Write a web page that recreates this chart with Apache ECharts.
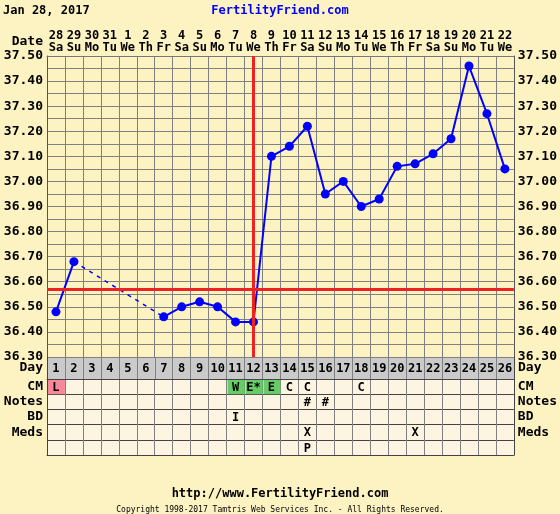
<!DOCTYPE html>
<html>
<head>
<meta charset="utf-8">
<script src="https://cdn.jsdelivr.net/npm/echarts@6/dist/echarts.min.js"></script>
<style>
  html, body { margin: 0; padding: 0; background: #fdf2c2; }
  #chart { width: 560px; height: 514px; }
</style>
</head>
<body>
<div id="chart"></div>
<script>
// cycle days and calendar labels
const cycleDays = ['1','2','3','4','5','6','7','8','9','10','11','12','13','14','15','16','17','18','19','20','21','22','23','24','25','26']
const dateNums = ['28','29','30','31','1','2','3','4','5','6','7','8','9','10','11','12','13','14','15','16','17','18','19','20','21','22']
const weekDays = ['Sa','Su','Mo','Tu','We','Th','Fr','Sa','Su','Mo','Tu','We','Th','Fr','Sa','Su','Mo','Tu','We','Th','Fr','Sa','Su','Mo','Tu','We']

// temperatures (null = not recorded)
const temps = [36.48, 36.68, null, null, null, null, 36.46, 36.50, 36.52, 36.50, 36.44, 36.44,
  37.10, 37.14, 37.22, 36.95, 37.00, 36.90, 36.93, 37.06, 37.07, 37.11, 37.17, 37.46, 37.27, 37.05]
// dashed link across the gap
const gapLink = [null, 36.68, null, null, null, null, 36.46, null, null, null, null, null,
  null, null, null, null, null, null, null, null, null, null, null, null, null, null]

const coverline = 36.57
const ovulationDay = '12'

const tableRows = ['CM', 'Notes', 'BD', 'Meds', '']
// [day index, row index, text, fill]
const tableCells = [
  [0, 0, 'L', '#f7889a'],
  [10, 0, 'W', '#66cc66'],
  [11, 0, 'E*', '#66cc66'],
  [12, 0, 'E', '#66cc66'],
  [13, 0, 'C', null],
  [14, 0, 'C', null],
  [17, 0, 'C', null],
  [14, 1, '#', null],
  [15, 1, '#', null],
  [10, 2, 'I', null],
  [14, 3, 'X', null],
  [20, 3, 'X', null],
  [14, 4, 'P', null]
]

const font = 'DejaVu Sans Mono'
const myChart = echarts.init(document.getElementById('chart'))

const cellSeries = (xi, yi, data) => ({
  type: 'custom',
  xAxisIndex: xi,
  yAxisIndex: yi,
  z: 5,
  data: data,
  renderItem: (params, api) => {
    const c = api.coord([api.value(0), api.value(1)])
    const s = api.size([1, 1])
    const children = []
    const fill = data[params.dataIndex][3]
    if (fill) {
      children.push({
        type: 'rect',
        shape: { x: c[0] - s[0] / 2 + 1, y: c[1] - s[1] / 2 + 1, width: s[0] - 1, height: s[1] - 1 },
        style: { fill: fill }
      })
    }
    children.push({
      type: 'text',
      style: {
        text: data[params.dataIndex][2],
        x: c[0], y: c[1] + 1,
        align: 'center', verticalAlign: 'middle',
        font: 'bold 12px ' + font, fill: '#000'
      }
    })
    return { type: 'group', children: children }
  }
})

const rowLabel = { interval: 0, margin: 4, fontFamily: font, fontWeight: 'bold', fontSize: 13, color: '#000' }

let option = {
  backgroundColor: '#fdf2c2',
  animation: false,
  textStyle: { fontFamily: font },
  graphic: [
    { type: 'text', left: 3, top: 5, style: { text: 'Jan 28, 2017', font: 'bold 12px ' + font, fill: '#000' } },
    { type: 'text', left: 'center', top: 5, style: { text: 'FertilityFriend.com', font: 'bold 12px ' + font, fill: '#0000ff' } },
    { type: 'text', right: 517, top: 35, style: { text: 'Date', font: 'bold 13px ' + font, fill: '#000', align: 'right' } },
    { type: 'text', left: 'center', top: 488, style: { text: 'http://www.FertilityFriend.com', font: 'bold 12px ' + font, fill: '#000' } },
    { type: 'text', left: 'center', top: 506, style: { text: 'Copyright 1998-2017 Tamtris Web Services Inc. - All Rights Reserved.', font: '8px ' + font, fill: '#000' } }
  ],
  grid: [
    { left: 47, top: 56, width: 467, height: 301, show: true, backgroundColor: '#fdf2c2', borderWidth: 0 },
    { left: 47, top: 357, width: 467, height: 22, show: true, backgroundColor: '#cacaca', borderWidth: 0 },
    { left: 47, top: 379, width: 467, height: 76, show: true, backgroundColor: '#fdf5e1', borderWidth: 0 }
  ],
  xAxis: [
    {
      gridIndex: 0, type: 'category', position: 'top', data: cycleDays,
      axisLine: { lineStyle: { color: '#777' } }, axisTick: { show: false },
      axisLabel: {
        margin: 2, interval: 0, lineHeight: 12,
        fontFamily: font, fontWeight: 'bold', fontSize: 12, color: '#000',
        formatter: (v, i) => dateNums[i] + '\n' + weekDays[i]
      },
      splitLine: { show: true, interval: 0, lineStyle: { color: '#808080', width: 1 } }
    },
    {
      gridIndex: 1, type: 'category', data: cycleDays,
      axisLine: { lineStyle: { color: '#444' } }, axisTick: { show: false }, axisLabel: { show: false },
      splitLine: { show: true, interval: 0, lineStyle: { color: '#808080' } }
    },
    {
      gridIndex: 2, type: 'category', data: cycleDays,
      axisLine: { lineStyle: { color: '#444' } }, axisTick: { show: false }, axisLabel: { show: false },
      splitLine: { show: true, interval: 0, lineStyle: { color: '#808080' } }
    }
  ],
  yAxis: [
    {
      gridIndex: 0, type: 'value', min: 36.3, max: 37.5, interval: 0.1,
      axisLine: { show: true, lineStyle: { color: '#555' } }, axisTick: { show: false },
      axisLabel: { margin: 4, fontFamily: font, fontWeight: 'bold', fontSize: 13, color: '#000', formatter: v => v.toFixed(2) },
      splitLine: { lineStyle: { color: '#808080' } },
      minorSplitLine: { show: true, lineStyle: { color: '#808080' } },
      minorTick: { splitNumber: 2 }
    },
    {
      gridIndex: 0, type: 'value', position: 'right', min: 36.3, max: 37.5, interval: 0.1,
      axisLine: { show: true, lineStyle: { color: '#555' } }, axisTick: { show: false },
      axisLabel: { margin: 4, fontFamily: font, fontWeight: 'bold', fontSize: 13, color: '#000', formatter: v => v.toFixed(2) },
      splitLine: { show: false }
    },
    {
      gridIndex: 1, type: 'category', data: ['Day'],
      axisLine: { show: true, lineStyle: { color: '#444' } }, axisTick: { show: false },
      axisLabel: rowLabel
    },
    {
      gridIndex: 1, type: 'category', position: 'right', data: ['Day'],
      axisLine: { show: true, lineStyle: { color: '#444' } }, axisTick: { show: false },
      axisLabel: rowLabel
    },
    {
      gridIndex: 2, type: 'category', inverse: true, data: tableRows,
      axisLine: { show: true, lineStyle: { color: '#444' } }, axisTick: { show: false },
      axisLabel: rowLabel,
      splitLine: { show: true, interval: 0, lineStyle: { color: '#444' } }
    },
    {
      gridIndex: 2, type: 'category', inverse: true, position: 'right', data: tableRows,
      axisLine: { show: true, lineStyle: { color: '#444' } }, axisTick: { show: false },
      axisLabel: rowLabel
    }
  ],
  series: [
    {
      name: 'gap', type: 'line', xAxisIndex: 0, yAxisIndex: 0,
      data: gapLink, connectNulls: true, showSymbol: false, symbol: 'none',
      lineStyle: { color: '#0000ff', width: 1.5, type: [4, 5] }, z: 3
    },
    {
      name: 'temp', type: 'line', xAxisIndex: 0, yAxisIndex: 0,
      data: temps, connectNulls: false,
      symbol: 'circle', symbolSize: 9, showAllSymbol: true,
      itemStyle: { color: '#0000ff' },
      lineStyle: { color: '#0000ff', width: 2 }, z: 4,
      markLine: {
        silent: true, symbol: 'none', label: { show: false },
        lineStyle: { color: '#ee2222', width: 3, type: 'solid' },
        data: [{ yAxis: coverline }, { xAxis: ovulationDay }]
      }
    },
    cellSeries(1, 2, cycleDays.map((d, i) => [i, 0, d, null])),
    cellSeries(2, 4, tableCells)
  ]
}

option && myChart.setOption(option)
</script>
</body>
</html>
